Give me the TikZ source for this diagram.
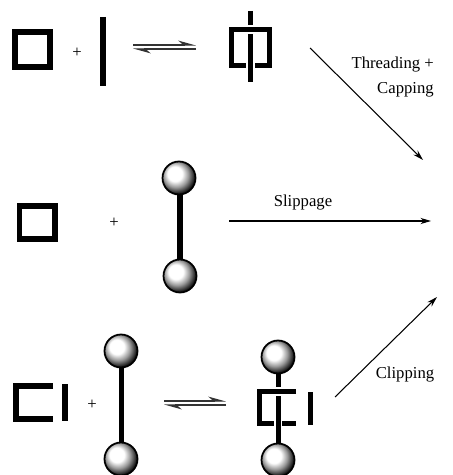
\documentclass[tikz,border=0pt]{standalone}
\usepackage{fontspec}
\setmainfont{Liberation Serif}
\usetikzlibrary{arrows.meta}

% glossy stopper: white spot high on the left, black rim
\pgfdeclareradialshading{stopper}{\pgfpoint{-8bp}{8bp}}{%
  color(0bp)=(white); color(11bp)=(white); color(19bp)=(black!40);
  color(27bp)=(black!90); color(50bp)=(black)}

\begin{document}
\begin{tikzpicture}[
  x=0.02cm, y=-0.02cm,
  every node/.style={font=\fontsize{9.5}{14}\selectfont},
  wall/.style={line width=0.12cm},
  thinwall/.style={line width=0.1cm},
  halo/.style={white, line width=0.17cm},
  ball/.style={circle, draw, line width=1pt, minimum size=0.66cm, inner sep=0pt, shading=stopper},
  arr/.style={-{Stealth[length=6pt,width=3.5pt]}, line width=0.6pt},
  eq/.style={-{Stealth[harpoon,length=9pt,width=5pt]}, line width=0.6pt, black!80}
]
\useasboundingbox (0,0) rectangle (452,475);

% ring + axle, threaded complex
\draw[wall] (15,32) rectangle (50,67);
\node (plus1) at (77,53) {+};
\draw[wall] (103,17) -- (103,86);
\coordinate (eq1l) at (133,45);
\coordinate (eq1r) at (196,45);
\coordinate (eq1lb) at (133,49);
\coordinate (eq1rb) at (196,49);
\draw[eq] (eq1l) -- (eq1r);
\draw[eq] (eq1rb) -- (eq1lb);
\draw[thinwall] (231.5,29.5) rectangle (269.5,65.5);
\draw[halo] (250.5,14) -- (250.5,80);
\draw[thinwall] (250.5,11) -- (250.5,82);
\draw[halo] (245,29.5) -- (256,29.5);
\draw[thinwall] (240,29.5) -- (261,29.5);

% ring + dumbbell
\draw[wall] (19.5,206.5) rectangle (54.5,239.5);
\node (plus2) at (114,223) {+};
\draw[wall] (180,178) -- (180,276);
\node[ball] (top2) at (179,178) {};
\node[ball] (bot2) at (180,276) {};

% clip + dumbbell, clipped complex
\draw[wall, miter limit=10] (53,386) -- (16,386) -- (16,419) -- (53,419);
\draw[wall] (65,384) -- (65,421);
\node (plus3) at (92,405) {+};
\draw[thinwall] (121,351) -- (121,459);
\node[ball] (top3) at (121,351) {};
\node[ball] (bot3) at (121,459) {};
\coordinate (eq3l) at (164,401);
\coordinate (eq3r) at (226,401);
\coordinate (eq3lb) at (164,405);
\coordinate (eq3rb) at (226,405);
\draw[eq] (eq3l) -- (eq3r);
\draw[eq] (eq3rb) -- (eq3lb);
\draw[thinwall] (296,391.5) -- (259.5,391.5) -- (259.5,423.5) -- (296,423.5);
\draw[halo] (278,370) -- (278,445);
\draw[thinwall] (278,357) -- (278,460);
\draw[halo] (272,391.5) -- (284,391.5);
\draw[thinwall] (268,391.5) -- (288,391.5);
\draw[thinwall] (310.5,392) -- (310.5,425);
\node[ball] (top4) at (278,357) {};
\node[ball] (bot4) at (278,460) {};

% routes to the rotaxane
\coordinate (thr) at (310,48);
\coordinate (thrend) at (423,160);
\coordinate (slp) at (229,221);
\coordinate (slpend) at (431,221);
\coordinate (clp) at (335,397);
\coordinate (clpend) at (437,297);
\draw[arr] (thr) -- (thrend);
\draw[arr] (slp) -- (slpend);
\draw[arr] (clp) -- (clpend);
\node[anchor=east, align=right] (thrlbl) at (440,77) {Threading +\\Capping};
\node (slplbl) at (303,203) {Slippage};
\node (clplbl) at (405,375) {Clipping};
\end{tikzpicture}
\end{document}
